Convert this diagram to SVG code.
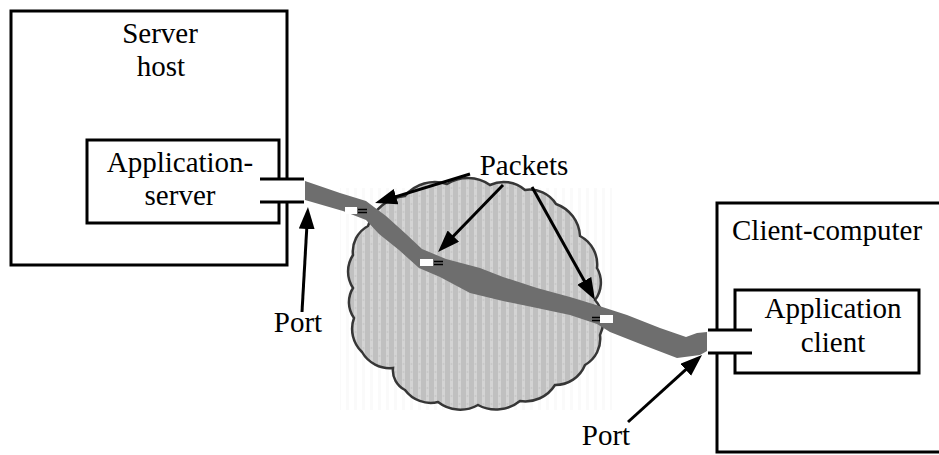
<svg xmlns="http://www.w3.org/2000/svg" width="939" height="455" viewBox="0 0 939 455">
<style>
.box{fill:none;stroke:#000;stroke-width:3}
.t{font-family:"Liberation Serif","Times New Roman",serif;font-size:29px;fill:#000}
.arr{fill:none;stroke:#000;stroke-width:3;marker-end:url(#ah)}
.pk{fill:#fff}
.eq{stroke:#000;stroke-width:1.3}
</style>
<defs>
<marker id="ah" markerUnits="userSpaceOnUse" markerWidth="24" markerHeight="18" refX="12" refY="8" orient="auto">
<path d="M0,0 L22,8 L0,16 Z" fill="#000"/>
</marker>
<pattern id="tex" width="8" height="8" patternUnits="userSpaceOnUse">
<rect width="8" height="8" fill="#c0c0c0"/>
<rect x="2" width="3" height="8" fill="#d4d4d4"/>
<circle cx="3.5" cy="4" r="1" fill="#c8c8c8"/>
</pattern>
<pattern id="halo" width="8" height="8" patternUnits="userSpaceOnUse">
<rect width="8" height="8" fill="#fff"/>
<rect x="2" width="3" height="8" fill="#fafafa"/>
</pattern>
</defs>

<g id="halo-bg">
<rect x="340" y="188" width="272" height="222" fill="url(#halo)"/>
</g>

<g id="server-host">
<path class="box" d="M287,179 V11 H11 V265 H287 V202"/>
<text class="t" x="160" y="43" text-anchor="middle">Server</text>
<text class="t" x="161" y="76" text-anchor="middle">host</text>
</g>

<g id="application-server">
<path class="box" d="M279,179 V140 H87 V223 H279 V202"/>
<text class="t" x="180" y="172" text-anchor="middle">Application-</text>
<text class="t" x="180" y="205" text-anchor="middle">server</text>
<path class="box" d="M260,179 H304 M260,202 H304"/>
</g>

<g id="network">
<path fill="url(#tex)" stroke="#363636" stroke-width="2.5" d="M368,226
A43 43 0 0 1 405,196
A39 39 0 0 1 447,184
A39 39 0 0 1 490,185
A32 32 0 0 1 525,190
A31 31 0 0 1 556,204
A36 36 0 0 1 580,236
A32 32 0 0 1 597,268
A29 29 0 0 1 595,300
A32 32 0 0 1 600,335
A30 30 0 0 1 585,365
A32 32 0 0 1 555,385
A35 35 0 0 1 520,401
A38 38 0 0 1 478,405
A36 36 0 0 1 438,402
A32 32 0 0 1 405,390
A22 22 0 0 1 393,368
A32 32 0 0 1 362,352
A32 32 0 0 1 354,318
A27 27 0 0 1 353,288
A30 30 0 0 1 353,255
A29 29 0 0 1 368,226 Z"/>
</g>

<g id="client-computer">
<path class="box" d="M717,330 V203 H945 M945,452 H717 V353"/>
<text class="t" x="732" y="240">Client-computer</text>
</g>

<g id="application-client">
<path class="box" d="M735,330 V290 H919 V373 H735 V353"/>
<text class="t" x="833" y="318" text-anchor="middle">Application</text>
<text class="t" x="833" y="352" text-anchor="middle">client</text>
<path class="box" d="M708,330 H752 M708,353 H752"/>
</g>

<g id="connection">
<path fill="#6e6e6e" d="M305,181 L340,193 L366,201 L386,216 L406,234 L422,249 L446,259 L480,268 L503,277 L537,288 L570,297 L593,304 L627,315 L660,328 L686,337 L697,333 L707,332 L707,351 L700,355 L677,358 L643,345 L610,332 L597,324 L570,315 L537,308 L503,301 L470,293 L440,277 L419,268 L399,250 L379,234 L366,220 L343,211 L305,200 Z"/>
<g id="packet1">
<rect class="pk" x="345" y="207" width="12" height="7"/>
<path class="eq" d="M358,209.5 H367 M358,212.5 H367"/>
</g>
<g id="packet2">
<rect class="pk" x="420" y="259" width="13" height="7"/>
<path class="eq" d="M434,261.5 H443 M434,264.5 H443"/>
</g>
<g id="packet3">
<rect class="pk" x="600" y="315" width="13" height="8"/>
<path class="eq" d="M592,317.5 H600 M592,320.5 H600"/>
</g>
</g>

<g id="labels">
<text class="t" x="524" y="175" text-anchor="middle">Packets</text>
<text class="t" x="298" y="332" text-anchor="middle">Port</text>
<text class="t" x="606" y="445" text-anchor="middle">Port</text>
</g>

<g id="connectors">
<path class="arr" d="M470,174 L384.6,200.1"/>
<path class="arr" d="M503,185 L445,244.8"/>
<path class="arr" d="M532,187 L590.1,291.3"/>
<path class="arr" d="M302,312 L307.4,217"/>
<path class="arr" d="M628,422 L694.6,361.7"/>
</g>
</svg>
